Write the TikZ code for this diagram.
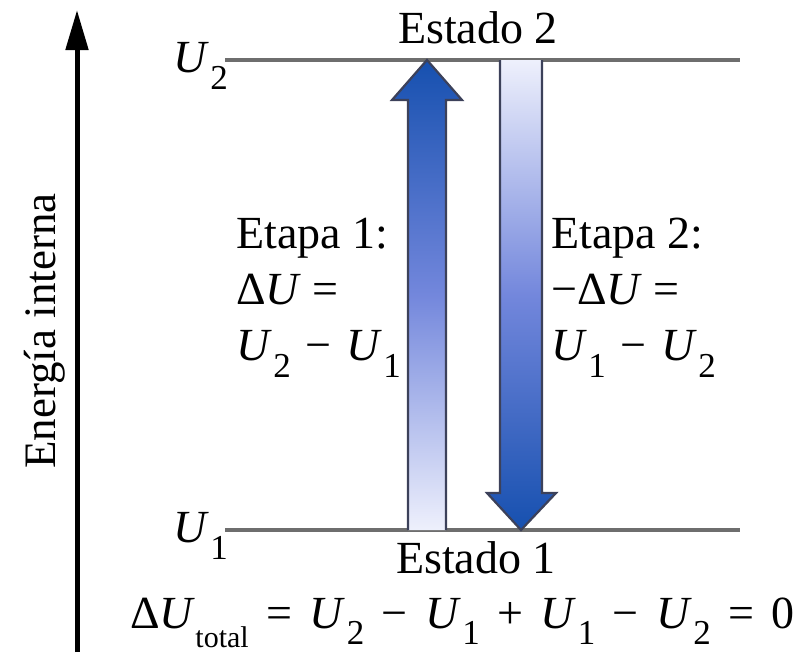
\documentclass[tikz,border=0pt]{standalone}
\usepackage{fontspec}
\setmainfont{Liberation Serif}
\usetikzlibrary{arrows.meta}
\definecolor{levelgray}{RGB}{110,110,110}
\definecolor{darkblue}{RGB}{22,80,175}
\definecolor{lightblue}{RGB}{238,240,252}
\definecolor{arrowedge}{RGB}{60,65,90}
\newcommand{\Uu}[1]{\textit{U}\kern0.03em\raisebox{-0.36em}{\fontsize{35}{35}\selectfont #1}}
\newcommand{\op}[1]{\hspace{0.32em}#1\hspace{0.32em}}
\newcommand{\opb}[1]{\hspace{0.38em}#1\hspace{0.38em}}
\tikzset{
  lbl/.style={font=\fontsize{46}{48}\selectfont, inner sep=0pt},
  level/.style={draw=levelgray, line width=4pt},
  stage/.style={draw=arrowedge, line width=2.2pt, line join=miter}
}
\begin{document}
\begin{tikzpicture}[x=1pt,y=-1pt]
\useasboundingbox (0,0) rectangle (801,657);
% axis
\coordinate (axb) at (77,652);
\coordinate (axt) at (77,10);
\draw[line width=5pt, -{Triangle[length=40pt,width=22pt]}] (axb) -- (axt);
\node[lbl, rotate=90, font=\fontsize{45}{47}\selectfont] (axlbl) at (45,331) {Energía interna};
% levels
\coordinate (u2a) at (225,60);
\coordinate (u2b) at (740,60);
\coordinate (u1a) at (225,530);
\coordinate (u1b) at (740,530);
\draw[level] (u2a) -- (u2b);
\draw[level] (u1a) -- (u1b);
\node[lbl, anchor=east] (U2) at (228,66) {\Uu{2}};
\node[lbl, anchor=east] (U1) at (228,536) {\Uu{1}};
\node[lbl] (E2) at (478,28) {Estado 2};
\node[lbl] (E1) at (476,558) {Estado 1};
% up arrow (etapa 1)
\shade[top color=darkblue, bottom color=lightblue, middle color={rgb,255:red,115;green,135;blue,220}]
  (408,530) -- (408,100) -- (392,100) -- (427,60) -- (462,100) -- (446,100) -- (446,530) -- cycle;
\draw[stage] (408,530) -- (408,100) -- (392,100) -- (427,60) -- (462,100) -- (446,100) -- (446,530);
% down arrow (etapa 2)
\shade[top color=lightblue, bottom color=darkblue, middle color={rgb,255:red,115;green,135;blue,220}]
  (500,60) -- (500,493) -- (487,493) -- (521,530) -- (556,493) -- (542,493) -- (542,60) -- cycle;
\draw[stage] (500,60) -- (500,493) -- (487,493) -- (521,530) -- (556,493) -- (542,493) -- (542,60);
% stage texts
\node[lbl, anchor=north west, align=left] (S1) at (236,218)
  {Etapa 1:\\[8pt] Δ\textit{U} =\\[8pt] \Uu{2}\op{−}\Uu{1}};
\node[lbl, anchor=north west, align=left] (S2) at (551,218)
  {Etapa 2:\\[8pt] −Δ\textit{U} =\\[8pt] \Uu{1}\op{−}\Uu{2}};
% total
\node[lbl, anchor=base west] (tot) at (130,628)
  {Δ\textit{U}\raisebox{-0.42em}{\fontsize{30}{30}\selectfont total}\opb{=}\Uu{2}\opb{−}\Uu{1}\opb{+}\Uu{1}\opb{−}\Uu{2}\opb{=}0};
\end{tikzpicture}
\end{document}
